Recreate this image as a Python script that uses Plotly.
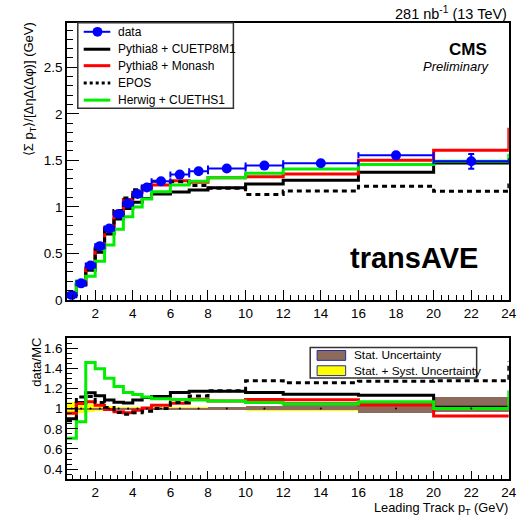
import plotly.graph_objects as go

# ---------------- data ----------------
bin_edges = [0.5, 1, 1.5, 2, 2.5, 3, 3.5, 4, 4.5, 5, 6, 7, 8, 10, 12, 16, 20, 24]
data_values = [0.05, 0.177, 0.368, 0.577, 0.767, 0.923, 1.035, 1.137, 1.208, 1.275,
               1.346, 1.383, 1.412, 1.443, 1.469, 1.553, 1.489]
data_errors = [0.005, 0.005, 0.006, 0.006, 0.006, 0.006, 0.007, 0.007, 0.008, 0.008,
               0.009, 0.01, 0.01, 0.012, 0.015, 0.025, 0.08]

# data/MC ratios (bottom panel)
ratio_cuetp8m1 = [0.90, 1.06, 1.156, 1.128, 1.086, 1.063, 1.055, 1.085, 1.11, 1.12,
                  1.16, 1.172, 1.172, 1.16, 1.142, 1.132, 1.013]
ratio_monash = [0.955, 1.05, 1.068, 1.033, 0.99, 0.97, 0.96, 0.983, 1.005, 1.033,
                1.052, 1.093, 1.075, 1.09, 1.087, 1.035, 0.926]
ratio_epos = [0.88, 1.115, 1.12, 1.06, 1.01, 0.962, 0.945, 0.96, 0.975, 1.0,
              1.06, 1.125, 1.178, 1.275, 1.256, 1.272, 1.277]
ratio_herwig = [0.707, 0.87, 1.457, 1.395, 1.30, 1.218, 1.16, 1.14, 1.115, 1.098,
                1.09, 1.086, 1.075, 1.06, 1.045, 1.068, 1.0]

# overflow (edge) segments drawn at x = 24
overflow_top_monash = 1.85
overflow_top_herwig = 1.57
overflow_top_epos = 1.25
overflow_ratio_herwig = 1.18
overflow_ratio_epos = 1.47

# uncertainty bands in ratio panel
stat_low = [0.994, 0.995, 0.995, 0.995, 0.995, 0.995, 0.995, 0.995, 0.994, 0.994,
            0.992, 0.99, 0.99, 0.985, 0.985, 0.958, 0.97]
stat_high = [1.006, 1.005, 1.005, 1.005, 1.005, 1.005, 1.005, 1.005, 1.006, 1.006,
             1.008, 1.01, 1.012, 1.03, 1.065, 1.06, 1.115]
syst_low = [0.935, 0.955, 0.97, 0.978, 0.982, 0.985, 0.985, 0.985, 0.985, 0.985,
            0.985, 0.983, 0.983, 0.978, 0.98, 0.955, 0.965]
syst_high = [1.07, 1.06, 1.045, 1.03, 1.022, 1.018, 1.018, 1.015, 1.015, 1.015,
             1.015, 1.015, 1.015, 1.03, 1.06, 1.06, 1.11]

series_names = ["data", "Pythia8 + CUETP8M1", "Pythia8 + Monash", "EPOS", "Herwig + CUETHS1"]

# ---------------- derived ----------------
centers = [(bin_edges[i] + bin_edges[i + 1]) / 2 for i in range(len(bin_edges) - 1)]
halfw = [(bin_edges[i + 1] - bin_edges[i]) / 2 for i in range(len(bin_edges) - 1)]
widths = [2 * h for h in halfw]


def mc_from_ratio(r):
    return [d / q for d, q in zip(data_values, r)]


def step(vals, ovf=None):
    x = list(bin_edges)
    y = list(vals) + [vals[-1]]
    if ovf is not None:
        x.append(bin_edges[-1])
        y.append(ovf)
    return x, y


W, H = 526, 519


def px(xp):
    return xp / W


def py(yp):
    return 1 - yp / H


FONT = "Liberation Sans, Arial, Helvetica, sans-serif"
RED = "#ff0000"
GREEN = "#00ee00"
BLUE = "#0000ff"
BROWN = "#8c6b5c"
YELLOW = "#ffff00"

fig = go.Figure()

# ---------------- top panel ----------------
top_specs = [
    (ratio_cuetp8m1, None, "black", "solid"),
    (ratio_monash, overflow_top_monash, RED, "solid"),
    (ratio_epos, overflow_top_epos, "black", "5px,4px"),
    (ratio_herwig, overflow_top_herwig, GREEN, "solid"),
]
for (r, ovf, col, dash), name in zip(top_specs, series_names[1:]):
    x, y = step(mc_from_ratio(r), ovf)
    fig.add_trace(go.Scatter(x=x, y=y, mode="lines", line=dict(shape="hv", color=col, width=3, dash=dash),
                             name=name, showlegend=False, xaxis="x", yaxis="y", hoverinfo="skip"))

fig.add_trace(go.Scatter(
    x=centers, y=data_values, mode="markers", name="data", showlegend=False,
    marker=dict(color=BLUE, size=10),
    error_x=dict(type="data", array=halfw, color=BLUE, thickness=2, width=3),
    error_y=dict(type="data", array=data_errors, color=BLUE, thickness=2, width=3),
    xaxis="x", yaxis="y"))

# ---------------- bottom panel ----------------
fig.add_trace(go.Bar(x=centers, y=[h - l for h, l in zip(syst_high, syst_low)], base=syst_low, width=widths,
                     marker=dict(color=YELLOW, line=dict(width=0)), showlegend=False,
                     xaxis="x2", yaxis="y2", hoverinfo="skip"))
fig.add_trace(go.Bar(x=centers, y=[h - l for h, l in zip(stat_high, stat_low)], base=stat_low, width=widths,
                     marker=dict(color=BROWN, line=dict(width=0)), showlegend=False,
                     xaxis="x2", yaxis="y2", hoverinfo="skip"))

bot_specs = [
    (ratio_cuetp8m1, None, "black", "solid"),
    (ratio_monash, None, RED, "solid"),
    (ratio_epos, overflow_ratio_epos, "black", "5px,4px"),
    (ratio_herwig, overflow_ratio_herwig, GREEN, "solid"),
]
for r, ovf, col, dash in bot_specs:
    x, y = step(r, ovf)
    fig.add_trace(go.Scatter(x=x, y=y, mode="lines", line=dict(shape="hv", color=col, width=3, dash=dash),
                             showlegend=False, xaxis="x2", yaxis="y2", hoverinfo="skip"))

fig.add_trace(go.Scatter(x=centers, y=[1.0] * len(centers), mode="markers",
                         marker=dict(color="black", size=2), showlegend=False, xaxis="x2", yaxis="y2"))

# ---------------- axes ----------------
xdom = [px(68), px(516.7)]
axis_common = dict(showgrid=False, zeroline=False, showline=True, mirror=True, linecolor="black",
                   linewidth=1.5, ticks="inside", tickcolor="black", tickwidth=1,
                   tickfont=dict(family=FONT, size=13.5, color="black"))

fig.update_layout(
    width=W, height=H, margin=dict(l=0, r=0, t=0, b=0),
    paper_bgcolor="white", plot_bgcolor="white", barmode="overlay", bargap=0,
    showlegend=False,
    xaxis=dict(domain=xdom, range=[0.5, 24], anchor="y", dtick=2, tick0=0, ticklen=10,
               minor=dict(ticks="inside", ticklen=5, dtick=0.4, tick0=0, tickcolor="black", showgrid=False),
               **axis_common),
    yaxis=dict(domain=[py(304.5), py(23)], range=[0, 2.98], anchor="x", dtick=0.5, tick0=0, ticklen=12,
               minor=dict(ticks="inside", ticklen=6, dtick=0.1, tick0=0, tickcolor="black", showgrid=False),
               **axis_common),
    xaxis2=dict(domain=xdom, range=[0.5, 24], anchor="y2", dtick=2, tick0=0, ticklen=8,
                minor=dict(ticks="inside", ticklen=4, dtick=0.4, tick0=0, tickcolor="black", showgrid=False),
                **axis_common),
    yaxis2=dict(domain=[py(486.7), py(343.3)], range=[0.3, 1.7], anchor="x2", dtick=0.2, tick0=0, ticklen=11,
                minor=dict(ticks="inside", ticklen=5, dtick=0.05, tick0=0, tickcolor="black", showgrid=False),
                **axis_common),
)

# ---------------- texts ----------------
ann = []


def text(x, y, s, size, xanchor="center", yanchor="middle", angle=0, **kw):
    ann.append(dict(x=px(x), y=py(y), xref="paper", yref="paper", text=s, showarrow=False,
                    xanchor=xanchor, yanchor=yanchor, textangle=angle,
                    font=dict(family=FONT, size=size, color="black"), **kw))


text(517, 13, "281 nb<sup>-1</sup> (13 TeV)", 14.5, xanchor="right")
text(497, 50, "<b>CMS</b>", 17, xanchor="right")
text(500, 68, "<i>Preliminary</i>", 13, xanchor="right")
text(420, 262, "<b>transAVE</b>", 29)
text(30, 91, "⟨Σ p<sub>T</sub>⟩/[ΔηΔ(Δφ)] (GeV)", 13, angle=-90)
text(37, 368, "data/MC", 13, angle=-90)
text(518, 506.5, "Leading Track p<sub>T</sub> (GeV)", 12.8, xanchor="right", yshift=-10)

# top legend
shapes = [dict(type="rect", xref="paper", yref="paper", x0=px(79), x1=px(237), y0=py(110), y1=py(23),
               line=dict(color="#333333", width=1.5), fillcolor="white", layer="above")]
leg_y = [32.3, 50, 66.7, 84.3, 101.7]
leg_cols = [BLUE, "black", RED, "black", GREEN]
leg_dash = ["solid", "solid", "solid", "dot", "solid"]
for i, (yy, col, dsh, name) in enumerate(zip(leg_y, leg_cols, leg_dash, series_names)):
    shapes.append(dict(type="line", xref="paper", yref="paper", x0=px(85), x1=px(112), y0=py(yy), y1=py(yy),
                       line=dict(color=col, width=2 if i == 0 else 3, dash=dsh), layer="above"))
    if i == 0:
        shapes.append(dict(type="circle", xref="paper", yref="paper", x0=px(94), x1=px(104),
                           y0=py(yy + 5), y1=py(yy - 5), fillcolor=BLUE, line=dict(color=BLUE, width=0),
                           layer="above"))
    text(118, yy, name, 12, xanchor="left")

# bottom legend
shapes.append(dict(type="rect", xref="paper", yref="paper", x0=px(315), x1=px(484), y0=py(384), y1=py(353),
                   line=dict(color="#333333", width=1.5), fillcolor="white", layer="above"))
for yy, col, lab in [(361, BROWN, "Stat. Uncertainty"), (376.5, YELLOW, "Stat. + Syst. Uncertainty")]:
    shapes.append(dict(type="rect", xref="paper", yref="paper", x0=px(322), x1=px(351),
                       y0=py(yy + 5), y1=py(yy - 5), fillcolor=col, line=dict(color="#2a2a9a", width=1),
                       layer="above"))
    text(357, yy, lab, 11.8, xanchor="left")

fig.update_layout(annotations=ann, shapes=shapes)

fig.write_html("out.html")
